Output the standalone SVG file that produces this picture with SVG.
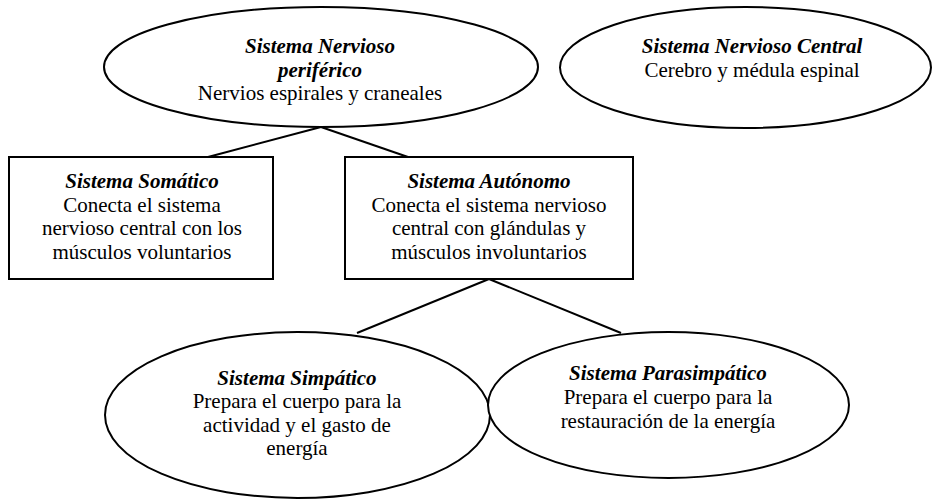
<svg xmlns="http://www.w3.org/2000/svg" width="933" height="499" viewBox="0 0 933 499">
<style>
.shape{fill:#ffffff;stroke:#000000;stroke-width:2}
.conn line{stroke:#000000;stroke-width:2}
text{font-family:"Liberation Serif","Times New Roman",serif;font-size:21px;fill:#000000;text-anchor:middle}
.t{font-weight:bold;font-style:italic}
</style>
<rect width="933" height="499" fill="#ffffff"/>
<g id="connectors" class="conn">
<line x1="321" y1="127" x2="208" y2="157"/>
<line x1="321" y1="127" x2="408" y2="157"/>
<line x1="489" y1="279" x2="357" y2="333"/>
<line x1="489" y1="279" x2="621" y2="333"/>
</g>
<g id="periferico">
<ellipse class="shape" cx="321" cy="67" rx="217" ry="60"/>
<text x="320" y="53" class="t">Sistema Nervioso</text>
<text x="320" y="77" class="t">periférico</text>
<text x="320" y="100">Nervios espirales y craneales</text>
</g>
<g id="central">
<ellipse class="shape" cx="745.5" cy="67.5" rx="185.5" ry="60.5"/>
<text x="752" y="53" class="t">Sistema Nervioso Central</text>
<text x="752" y="77">Cerebro y médula espinal</text>
</g>
<g id="somatico">
<rect class="shape" x="9" y="157" width="264" height="122"/>
<text x="142" y="188" class="t">Sistema Somático</text>
<text x="142" y="212">Conecta el sistema</text>
<text x="142" y="235">nervioso central con los</text>
<text x="142" y="259">músculos voluntarios</text>
</g>
<g id="autonomo">
<rect class="shape" x="345" y="157" width="288" height="122"/>
<text x="489" y="188" class="t">Sistema Autónomo</text>
<text x="489" y="212">Conecta el sistema nervioso</text>
<text x="489" y="235">central con glándulas y</text>
<text x="489" y="259">músculos involuntarios</text>
</g>
<g id="simpatico">
<ellipse class="shape" cx="297.5" cy="415" rx="192.5" ry="83"/>
<text x="297" y="385" class="t">Sistema Simpático</text>
<text x="297" y="408">Prepara el cuerpo para la</text>
<text x="297" y="432">actividad y el gasto de</text>
<text x="297" y="455">energía</text>
</g>
<g id="parasimpatico">
<ellipse class="shape" cx="668.5" cy="405" rx="180.5" ry="73"/>
<text x="668" y="380" class="t">Sistema Parasimpático</text>
<text x="668" y="404">Prepara el cuerpo para la</text>
<text x="668" y="428">restauración de la energía</text>
</g>
</svg>
